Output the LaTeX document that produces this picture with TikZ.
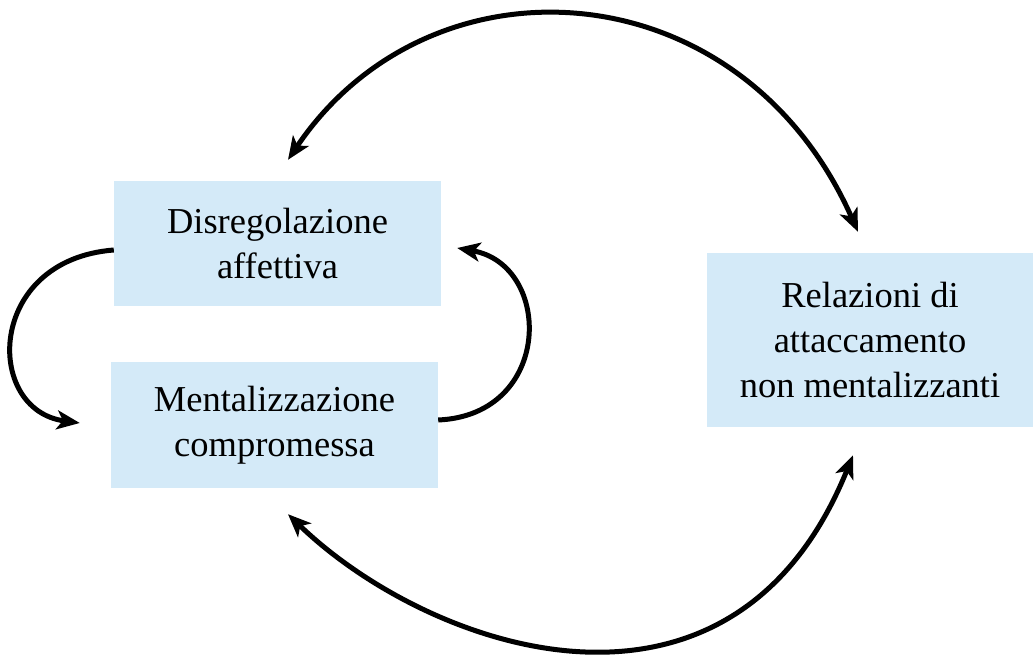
\documentclass[tikz,border=0pt]{standalone}
\usepackage{fontspec}
\setmainfont{Liberation Serif}
\usetikzlibrary{arrows.meta}
\definecolor{boxblue}{RGB}{212,234,248}

\begin{document}
\begin{tikzpicture}[x=1pt, y=1pt, >={Stealth[length=23pt,width=19pt,inset=6pt]}]
  \tikzstyle{concept}=[fill=boxblue, draw=none, align=center, text=black, inner sep=0pt, font=\fontsize{36.5}{45}\selectfont]
  \tikzstyle{feedback}=[line width=5pt]
  \useasboundingbox (0,0) rectangle (1035,657);

  \node[concept, minimum width=327pt, minimum height=125pt] (disreg)  at (277.5,413.5) {Disregolazione\\affettiva};
  \node[concept, minimum width=327pt, minimum height=126pt] (comprom) at (274.5,232)   {Mentalizzazione\\compromessa};
  \node[concept, minimum width=326pt, minimum height=174pt] (relaz)   at (870,317)     {Relazioni di\\attaccamento\\non mentalizzanti};

  % big cycle
  \draw[feedback, <->] ([xshift=10.5pt,yshift=21pt]disreg.north) .. controls +(56:255) and +(114:290) .. ([xshift=-12pt,yshift=21pt]relaz.north);
  \draw[feedback, <->] ([xshift=13.5pt,yshift=-26pt]comprom.south) .. controls +(-44:195) and +(-112:325) .. ([xshift=-17pt,yshift=-28pt]relaz.south);
  % small cycle
  \draw[feedback, ->] ([yshift=-6.5pt]disreg.west) .. controls +(-128,-10) and +(-96,13) .. ([xshift=-31pt,yshift=2pt]comprom.west);
  \draw[feedback, ->] ([yshift=5pt]comprom.east) .. controls +(115,5) and +(96,-17) .. ([xshift=16pt,yshift=-4.5pt]disreg.east);
\end{tikzpicture}
\end{document}
